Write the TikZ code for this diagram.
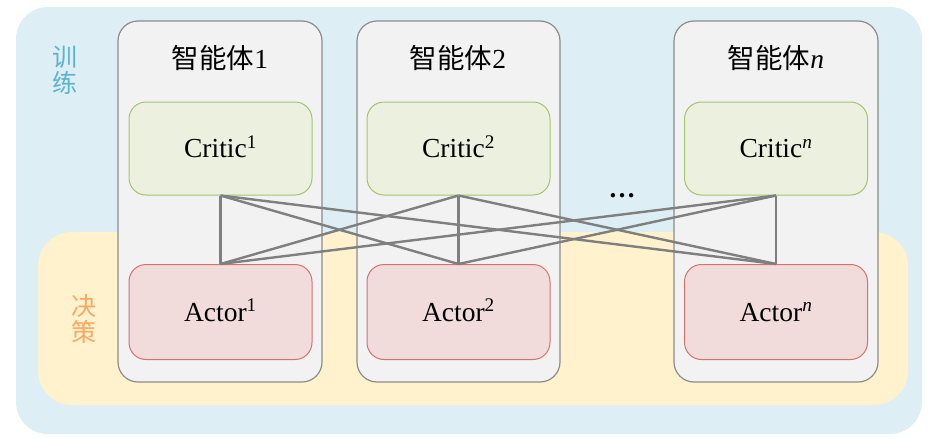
\documentclass[tikz,border=0pt]{standalone}
\usepackage{fontspec}
\setmainfont{Liberation Serif}
\newfontfamily\cjk{Noto Sans CJK SC}
\definecolor{bgblue}{HTML}{DDEEF5}
\definecolor{bgyellow}{HTML}{FFF2CC}
\definecolor{agentfill}{HTML}{F2F2F2}
\definecolor{agentdraw}{HTML}{8C8C8C}
\definecolor{criticfill}{HTML}{EBF1DE}
\definecolor{criticdraw}{HTML}{A6C36E}
\definecolor{actorfill}{HTML}{F2DCDB}
\definecolor{actordraw}{HTML}{D4726F}
\definecolor{linkgray}{HTML}{7F7F7F}
\definecolor{traincol}{HTML}{5BB5CF}
\definecolor{decidecol}{HTML}{F8A863}
\begin{document}
\begin{tikzpicture}[x=1pt,y=-1pt,
  agentbox/.style={draw=agentdraw,fill=agentfill,line width=1.2pt,rounded corners=20pt},
  criticbox/.style={draw=criticdraw,fill=criticfill,line width=1pt,rounded corners=17pt,minimum width=183pt,minimum height=93pt,inner sep=0pt,text height=20pt,text depth=2pt,font=\fontsize{27.5}{30}\selectfont},
  actorbox/.style={draw=actordraw,fill=actorfill,line width=1pt,rounded corners=17pt,minimum width=183pt,minimum height=95pt,inner sep=0pt,text height=20pt,text depth=2pt,font=\fontsize{27.5}{30}\selectfont},
  titletext/.style={font=\fontsize{27.5}{30}\selectfont,inner sep=0pt,text height=20pt,text depth=3pt},
  link/.style={draw=linkgray,line width=2.4pt},
  sidelabel/.style={font=\cjk\fontsize{25}{28}\selectfont,align=center,inner sep=0pt}
]
\useasboundingbox (0,0) rectangle (929,439);
% backgrounds
\fill[bgblue,rounded corners=32pt] (16,7) rectangle (922,434);
\fill[bgyellow,rounded corners=34pt] (38,232) rectangle (908,405);
% agent boxes
\draw[agentbox] (118,21) rectangle (322,382);
\draw[agentbox] (357,21) rectangle (560,382);
\draw[agentbox] (674,21) rectangle (878,382);
% titles
\node[titletext] (t1) at (220,60) {{\cjk 智能体}1};
\node[titletext] (t2) at (458,60) {{\cjk 智能体}2};
\node[titletext] (tn) at (776,60) {{\cjk 智能体}\textit{n}};
% critics
\node[criticbox] (c1) at (220.5,148.5) {Critic\textsuperscript{1}};
\node[criticbox] (c2) at (458.5,148.5) {Critic\textsuperscript{2}};
\node[criticbox] (cn) at (776,148.5) {Critic\textsuperscript{\textit{n}}};
% actors
\node[actorbox] (a1) at (220.5,312) {Actor\textsuperscript{1}};
\node[actorbox] (a2) at (458.5,312) {Actor\textsuperscript{2}};
\node[actorbox] (an) at (776,312) {Actor\textsuperscript{\textit{n}}};
% links
\foreach \c in {c1,c2,cn}{
  \foreach \a in {a1,a2,an}{
    \draw[link] (\c.south) -- (\a.north);
  }
}
% dots
\node[font=\fontsize{27}{30}\selectfont\bfseries,inner sep=0pt] (dots) at (622,196) {…};
% side labels
\node[sidelabel,text=traincol] (train) at (65,70) {训\\[-2pt]练};
\node[sidelabel,text=decidecol] (decide) at (84,319) {决\\[-2pt]策};
\end{tikzpicture}
\end{document}
